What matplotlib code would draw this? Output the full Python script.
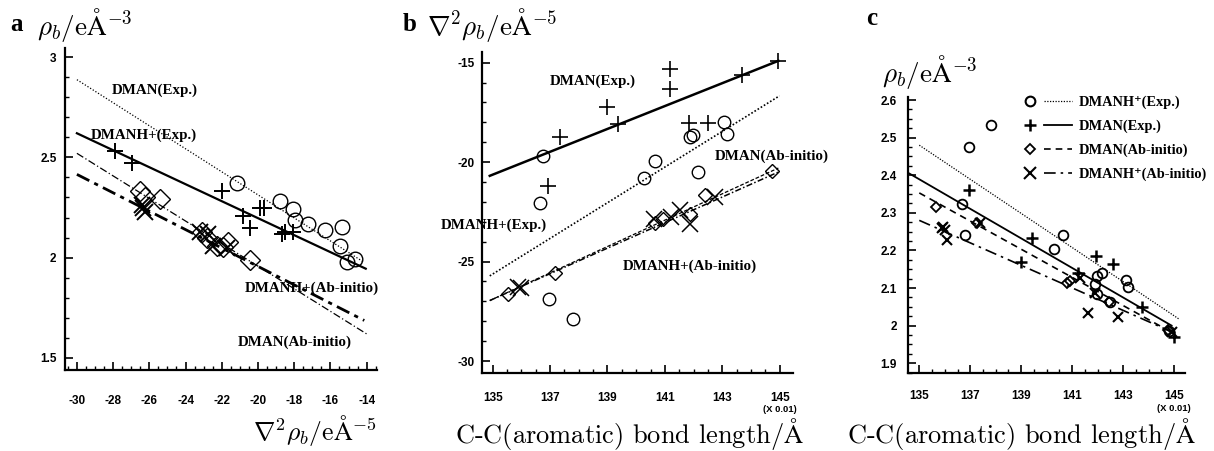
import matplotlib
matplotlib.use("Agg")
import matplotlib.pyplot as plt
from matplotlib.ticker import MultipleLocator, FixedLocator, FuncFormatter
from matplotlib.lines import Line2D
from matplotlib.legend_handler import HandlerTuple

plt.rcParams['axes.unicode_minus'] = False
plt.rcParams['mathtext.fontset'] = 'cm'

# --- panel a: rho_b against laplacian ---
a_circ_x = [-21.18, -18.78, -18.07, -17.96, -17.24, -16.30, -15.38, -15.47, -15.10, -14.64]
a_circ_y = [2.37, 2.28, 2.24, 2.19, 2.17, 2.137, 2.155, 2.06, 1.978, 1.995]
a_plus_x = [-27.9, -26.98, -22.0, -20.85, -20.44, -19.9, -19.67, -18.69, -18.5, -18.07]
a_plus_y = [2.53, 2.47, 2.33, 2.21, 2.15, 2.245, 2.245, 2.12, 2.13, 2.13]
a_diam_x = [-26.52, -26.24, -25.41, -23.11, -22.83, -22.28, -21.93, -21.64, -20.44]
a_diam_y = [2.33, 2.30, 2.29, 2.13, 2.10, 2.06, 2.055, 2.08, 1.99]
a_cross_x = [-26.4, -26.34, -26.24, -23.2, -22.75, -22.47, -21.73]
a_cross_y = [2.26, 2.245, 2.23, 2.128, 2.12, 2.06, 2.05]

a_fit_circ_x, a_fit_circ_y = [-30, -14.2], [2.887, 1.98]
a_fit_plus_x, a_fit_plus_y = [-30, -14.05], [2.62, 1.945]
a_fit_diam_x, a_fit_diam_y = [-30, -14.0], [2.52, 1.62]
a_fit_cross_x, a_fit_cross_y = [-30, -14.13], [2.415, 1.687]

# --- panel b: laplacian against bond length ---
b_plus_x = [144.95, 143.68, 141.18, 141.18, 138.97, 139.38, 137.34, 136.94, 141.85, 142.51]
b_plus_y = [-14.91, -15.62, -15.33, -16.34, -17.24, -18.1, -18.72, -21.2, -18.05, -18.05]
b_circ_x = [136.76, 136.65, 140.65, 140.28, 141.87, 141.98, 143.07, 143.15, 142.16, 136.97, 137.79]
b_circ_y = [-19.69, -22.07, -19.92, -20.78, -18.75, -18.63, -17.96, -18.58, -20.48, -26.89, -27.9]
b_diam_x = [135.54, 137.17, 140.65, 140.92, 141.87, 142.4, 144.72]
b_diam_y = [-26.62, -25.55, -23.07, -22.87, -22.62, -21.65, -20.43]
b_cross_x = [135.89, 136.0, 140.63, 141.21, 141.52, 141.87, 142.75]
b_cross_y = [-26.26, -26.35, -22.87, -22.77, -22.4, -23.12, -21.73]

b_fit_plus_x, b_fit_plus_y = [134.9, 144.95], [-20.69, -14.91]
b_fit_circ_x, b_fit_circ_y = [134.9, 144.99], [-25.72, -16.67]
b_fit_diam_x, b_fit_diam_y = [134.9, 144.95], [-26.96, -20.3]
b_fit_cross_x, b_fit_cross_y = [134.9, 144.95], [-26.96, -20.5]

# --- panel c: rho_b against bond length ---
c_circ_x = [137.81, 136.96, 136.66, 136.79, 140.65, 140.28, 142.15, 141.96, 141.89, 143.11, 143.2, 144.8, 141.96, 142.48]
c_circ_y = [2.534, 2.476, 2.323, 2.242, 2.242, 2.203, 2.141, 2.132, 2.111, 2.121, 2.102, 1.987, 2.084, 2.063]
c_plus_x = [136.96, 139.43, 139.01, 141.93, 142.6, 141.24, 143.72, 145.0]
c_plus_y = [2.362, 2.232, 2.170, 2.184, 2.163, 2.141, 2.05, 1.970]
c_diam_x = [135.65, 137.27, 140.78, 140.93, 142.45, 144.74]
c_diam_y = [2.315, 2.274, 2.114, 2.12, 2.064, 1.988]
c_cross_x = [135.9, 135.94, 136.0, 136.1, 137.38, 141.31, 141.89, 141.63, 142.8, 144.9]
c_cross_y = [2.259, 2.263, 2.254, 2.228, 2.274, 2.126, 2.086, 2.033, 2.024, 1.983]

c_fit_circ_x, c_fit_circ_y = [135.0, 145.2], [2.48, 2.017]
c_fit_plus_x, c_fit_plus_y = [134.6, 144.9], [2.405, 2.0]
c_fit_diam_x, c_fit_diam_y = [135.0, 144.85], [2.353, 1.984]
c_fit_cross_x, c_fit_cross_y = [135.0, 144.85], [2.28, 1.985]

bond_ticks = [135, 137, 139, 141, 143, 145]

lab_font = dict(family=['Liberation Serif', 'DejaVu Serif'], weight='bold', size=10.8)
tick_font = dict(family=['Liberation Sans', 'DejaVu Sans'], weight='bold', size=8.5)


def style_axes(ax, xmin, ymaj, ymin, xpad, ypad):
    for s in ['top', 'right']:
        ax.spines[s].set_visible(False)
    for s in ['left', 'bottom']:
        ax.spines[s].set_linewidth(1.6)
    ax.xaxis.set_minor_locator(MultipleLocator(xmin))
    ax.yaxis.set_major_locator(MultipleLocator(ymaj))
    ax.yaxis.set_minor_locator(MultipleLocator(ymin))
    fmt = FuncFormatter(lambda v, p: '%g' % round(v, 3))
    ax.xaxis.set_major_formatter(fmt)
    ax.yaxis.set_major_formatter(fmt)
    ax.tick_params(which='major', direction='in', length=6, width=1.2)
    ax.tick_params(which='minor', direction='in', length=3, width=1.0)
    ax.tick_params(axis='x', which='major', pad=xpad)
    ax.tick_params(axis='y', which='major', pad=ypad)
    for t in ax.get_xticklabels() + ax.get_yticklabels():
        t.set_fontfamily(tick_font['family'])
        t.set_fontweight('bold')
        t.set_fontsize(tick_font['size'])


fig = plt.figure(figsize=(12.14, 4.51), dpi=100)

# panel a
ax1 = fig.add_axes([0.0535, 0.1796, 0.257, 0.714])
ax1.plot(a_fit_circ_x, a_fit_circ_y, color='k', ls=(0, (1, 1.5)), lw=0.9)
ax1.plot(a_fit_plus_x, a_fit_plus_y, color='k', ls='-', lw=1.6)
ax1.plot(a_fit_diam_x, a_fit_diam_y, color='k', ls=(0, (6, 2, 1, 2)), lw=0.9)
ax1.plot(a_fit_cross_x, a_fit_cross_y, color='k', ls=(0, (5, 2, 1.5, 2)), lw=2.0)
ax1.plot(a_circ_x, a_circ_y, 'o', ms=10.5, mfc='none', mec='k', mew=1.0)
ax1.plot(a_plus_x, a_plus_y, '+', ms=12, mec='k', mew=1.4)
ax1.plot(a_diam_x, a_diam_y, 'D', ms=10, mfc='none', mec='k', mew=1.0)
ax1.plot(a_cross_x, a_cross_y, 'x', ms=12, mec='k', mew=1.4)
ax1.set_xlim(-30.66, -13.43)
ax1.set_ylim(1.44, 3.045)
ax1.xaxis.set_major_locator(MultipleLocator(2))
ax1.text(-25.7, 2.835, 'DMAN(Exp.)', ha='center', va='center', **lab_font)
ax1.text(-29.24, 2.61, 'DMANH+(Exp.)', ha='left', va='center', **lab_font)
ax1.text(-17.03, 1.845, 'DMANH+(Ab-initio)', ha='center', va='center', **lab_font)
ax1.text(-17.96, 1.58, 'DMAN(Ab-initio)', ha='center', va='center', **lab_font)
style_axes(ax1, 0.5, 0.5, 0.1, 18, 6)

# panel b
ax2 = fig.add_axes([0.3968, 0.173, 0.2564, 0.7124])
ax2.plot(b_fit_plus_x, b_fit_plus_y, color='k', ls='-', lw=1.8)
ax2.plot(b_fit_circ_x, b_fit_circ_y, color='k', ls=(0, (1, 1.2)), lw=1.2)
ax2.plot(b_fit_diam_x, b_fit_diam_y, color='k', ls=(0, (3, 1.5)), lw=0.9)
ax2.plot(b_fit_cross_x, b_fit_cross_y, color='k', ls=(0, (4, 1.5, 1, 1.5)), lw=1.1)
ax2.plot(b_circ_x, b_circ_y, 'o', ms=9, mfc='none', mec='k', mew=1.0)
ax2.plot(b_plus_x, b_plus_y, '+', ms=11, mec='k', mew=1.2)
ax2.plot(b_diam_x, b_diam_y, 'D', ms=7.5, mfc='none', mec='k', mew=1.0)
ax2.plot(b_cross_x, b_cross_y, 'x', ms=11, mec='k', mew=1.1)
ax2.set_xlim(134.62, 145.46)
ax2.set_ylim(-30.6, -14.45)
ax2.xaxis.set_major_locator(FixedLocator(bond_ticks))
ax2.text(138.48, -15.95, 'DMAN(Exp.)', ha='center', va='center', **lab_font)
ax2.text(142.75, -19.69, 'DMAN(Ab-initio)', ha='left', va='center', clip_on=False, **lab_font)
ax2.text(136.9, -23.16, 'DMANH+(Exp.)', ha='right', va='center', clip_on=False, **lab_font)
ax2.text(141.87, -25.25, 'DMANH+(Ab-initio)', ha='center', va='center', **lab_font)
style_axes(ax2, 0.5, 5, 1, 14, 5)
ax2.annotate('(X 0.01)', xy=(145, 0), xycoords=('data', 'axes fraction'),
             xytext=(0, -23), textcoords='offset points', ha='center', va='top',
             family=tick_font['family'], weight='bold', size=6.8)

# panel c
ax3 = fig.add_axes([0.748, 0.173, 0.228, 0.6126])
ax3.plot(c_fit_circ_x, c_fit_circ_y, color='k', ls=(0, (1, 1.2)), lw=0.9)
ax3.plot(c_fit_plus_x, c_fit_plus_y, color='k', ls='-', lw=1.3)
ax3.plot(c_fit_diam_x, c_fit_diam_y, color='k', ls=(0, (4, 3)), lw=1.2)
ax3.plot(c_fit_cross_x, c_fit_cross_y, color='k', ls=(0, (7, 3, 1.5, 3)), lw=1.2)
ax3.plot(c_circ_x, c_circ_y, 'o', ms=7, mfc='none', mec='k', mew=1.3)
ax3.plot(c_plus_x, c_plus_y, '+', ms=8, mec='k', mew=1.8)
ax3.plot(c_diam_x, c_diam_y, 'D', ms=5.5, mfc='none', mec='k', mew=1.3)
ax3.plot(c_cross_x, c_cross_y, 'x', ms=7.5, mec='k', mew=1.5)
ax3.set_xlim(134.56, 145.42)
ax3.set_ylim(1.874, 2.609)
ax3.xaxis.set_major_locator(FixedLocator(bond_ticks))
style_axes(ax3, 0.5, 0.1, 0.025, 12, 8)
ax3.annotate('(X 0.01)', xy=(145, 0), xycoords=('data', 'axes fraction'),
             xytext=(0, -22), textcoords='offset points', ha='center', va='top',
             family=tick_font['family'], weight='bold', size=6.8)

handles = [
    (Line2D([], [], ls='none', marker='o', ms=7, mfc='none', mec='k', mew=1.5),
     Line2D([], [], color='k', ls=(0, (1, 1.2)), lw=0.9)),
    (Line2D([], [], ls='none', marker='+', ms=8, mec='k', mew=1.8),
     Line2D([], [], color='k', ls='-', lw=1.3)),
    (Line2D([], [], ls='none', marker='D', ms=5, mfc='none', mec='k', mew=1.3),
     Line2D([], [], color='k', ls=(0, (4, 3)), lw=1.2)),
    (Line2D([], [], ls='none', marker='x', ms=8, mec='k', mew=1.5),
     Line2D([], [], color='k', ls=(0, (7, 3, 1.5, 3)), lw=1.2)),
]
labels = ['DMANH\u207a(Exp.)', 'DMAN(Exp.)', 'DMAN(Ab-initio)', 'DMANH\u207a(Ab-initio)']
leg_font = dict(lab_font, size=10.4)
ax3.legend(handles, labels, handler_map={tuple: HandlerTuple(ndivide=None, pad=0.0)},
           loc='upper right', bbox_to_anchor=(0.999, 0.80), bbox_transform=fig.transFigure,
           frameon=False, handlelength=3.8, handletextpad=0.5, labelspacing=0.72,
           borderpad=0.2, borderaxespad=0.2, prop=leg_font)

# panel letters and axis titles
letter_font = dict(family=['Liberation Serif', 'DejaVu Serif'], weight='bold', size=18)
fig.text(0.014, 0.945, 'a', ha='center', va='center', **letter_font)
fig.text(0.337, 0.945, 'b', ha='center', va='center', **letter_font)
fig.text(0.718, 0.96, 'c', ha='center', va='center', **letter_font)

fig.text(0.0305, 0.945, r'$\rho_b/\mathrm{e\AA}^{-3}$', ha='left', va='center', size=19.5)
fig.text(0.3517, 0.945, r'$\nabla^2\rho_b/\mathrm{e\AA}^{-5}$', ha='left', va='center', size=19.5)
fig.text(0.7265, 0.84, r'$\rho_b/\mathrm{e\AA}^{-3}$', ha='left', va='center', size=19.5)

fig.text(0.3105, 0.045, r'$\nabla^2\rho_b/\mathrm{e\AA}^{-5}$', ha='right', va='center', size=18.5)
fig.text(0.375, 0.037, r'C-C(aromatic) bond length/$\mathrm{\AA}$', ha='left', va='center',
         family='cmr10', size=19)
fig.text(0.6975, 0.037, r'C-C(aromatic) bond length/$\mathrm{\AA}$', ha='left', va='center',
         family='cmr10', size=19)

fig.savefig('out.png', dpi=100, facecolor='white')
